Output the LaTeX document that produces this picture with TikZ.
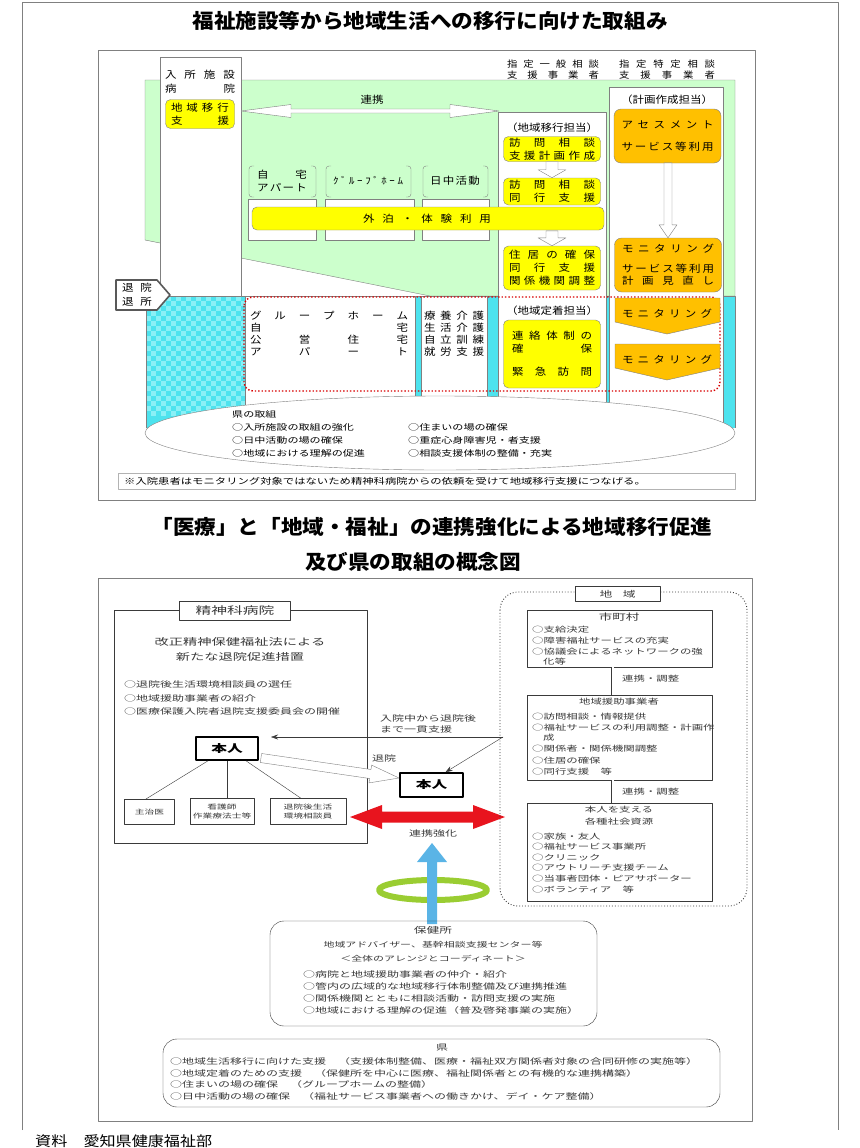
\documentclass[tikz,border=0pt]{standalone}
\usepackage{fontspec}
\setmainfont{Noto Sans CJK JP}
\newfontfamily\jp{Noto Sans CJK JP}
\newfontfamily\jpt{Noto Sans CJK JP}[FakeStretch=1.08]
\newfontfamily\jpm{Noto Sans CJK JP}[FakeStretch=1.15]
\newfontfamily\jpw{Noto Sans CJK JP}[FakeStretch=1.35]
\newfontfamily\jpx{Noto Sans CJK JP}[FakeStretch=1.5]
\usetikzlibrary{calc,arrows.meta}
\definecolor{gfill}{HTML}{CCFFCC}
\definecolor{ylw}{HTML}{FFFF00}
\definecolor{org}{HTML}{FFC000}
\definecolor{cyn}{HTML}{4DE3EE}
\definecolor{cynl}{HTML}{8AF0F6}
\definecolor{lgray}{HTML}{808080}
\definecolor{txt}{HTML}{3A3A3A}
\definecolor{redar}{HTML}{E8141E}
\definecolor{bluar}{HTML}{5AB4E6}
\definecolor{ringc}{HTML}{9ACD32}
\makeatletter
\def\jus#1#2{\hbox to #1{\jus@a#2\@nil}}
\def\jus@a#1#2\@nil{#1\if\relax\detokenize{#2}\relax\else\hfil\jus@a#2\@nil\fi}
\makeatother
\begin{document}
\begin{tikzpicture}[x=1pt,y=-1pt,line join=round,
  ttl/.style={font=\jpt\bfseries\fontsize{20}{24}\selectfont, inner sep=0},
  tf/.style={font=\jpm\fontsize{10}{12.5}\selectfont, inner sep=0, align=center},
  ef/.style={font=\jpw\fontsize{8.2}{12}\selectfont, inner sep=0, anchor=west},
  bf/.style={font=\jpx\fontsize{8}{11}\selectfont, text=txt, inner sep=0},
  bs/.style={font=\jpx\fontsize{7.6}{10.5}\selectfont, text=txt, inner sep=0},
  ybox/.style={draw=lgray, fill=ylw, rounded corners=5, inner sep=0, align=center, font=\jpm\fontsize{10}{13}\selectfont},
  obox/.style={draw=lgray, fill=org, rounded corners=7, inner sep=0, align=center, font=\jpm\fontsize{10}{12.5}\selectfont},
  wbox/.style={draw=lgray, fill=white},
  harrow/.style={draw=lgray, fill=white},
  pbox/.style={draw=black, line width=1.6, fill=white, inner sep=0, font=\jpx\bfseries\fontsize{10.5}{12}\selectfont},
  sbox/.style={draw=txt, fill=white, inner sep=0, align=center, font=\jpx\fontsize{6.5}{9}\selectfont, text=txt}
]
\useasboundingbox (0,0) rectangle (859,1148);
\fill[white] (0,0) rectangle (859,1148);
% outer frame
\draw[lgray, line width=0.8] (22,1130) -- (22,2) -- (838,2) -- (838,1130);

% ================= TOP DIAGRAM =================
\node[ttl] (t1) at (430,21) {福祉施設等から地域生活への移行に向けた取組み};
\draw[lgray, line width=0.8] (98,50) rectangle (755,500);

% green region
\filldraw[fill=gfill, draw=lgray] (145,80) -- (735,80) -- (735,296) -- (430,296) -- (241,258) -- (160,243) -- (145,240) -- cycle;
% cyan band
\fill[cyn] (146,296) rectangle (735,428);
\foreach \i in {0,...,9}{\foreach \j in {0,...,11}{
  \fill[cynl] (146+10*\i,296+10*\j) rectangle ++(5,5);
  \fill[cynl] (151+10*\i,301+10*\j) rectangle ++(5,5);}}
\draw[lgray] (146,428) -- (146,296) -- (735,296) -- (735,428);
\draw[wbox] (245,296) rectangle (415,428);
\draw[wbox] (421,296) rectangle (487,428);
% columns
\draw[wbox] (498,112) rectangle (606,440);
\draw[wbox] (609,87) rectangle (723,440);
\draw[wbox] (160,57) rectangle (241,296);

% headers
\node[tf, font=\jpm\fontsize{9}{11}\selectfont] (h1a) at (553,64) {\jus{92pt}{指定一般相談}};
\node[tf, font=\jpm\fontsize{9}{11}\selectfont] (h1b) at (553,75) {\jus{92pt}{支援事業者}};
\node[tf, font=\jpm\fontsize{9}{11}\selectfont] (h2a) at (667,64) {\jus{96pt}{指定特定相談}};
\node[tf, font=\jpm\fontsize{9}{11}\selectfont] (h2b) at (667,75) {\jus{96pt}{支援事業者}};

% left column
\node[tf] (lc1) at (200,75) {\jus{70pt}{入所施設}};
\node[tf] (lc2) at (200,89) {\jus{70pt}{病院}};
\node[ybox, minimum width=69, minimum height=29] (lc3) at (200,114) {\jus{58pt}{地域移行}\\\jus{58pt}{支援}};

% renkei double arrow
\draw[harrow] (241,111) -- (291,104.5) -- (291,109) -- (450,109) -- (450,104.5) -- (499,111) -- (450,117.5) -- (450,113) -- (291,113) -- (291,117.5) -- cycle;
\node[tf] (rk) at (372,100) {連携};

% brackets
\draw[lgray, rounded corners=3] (254,166) -- (249,166) -- (249,197) -- (254,197);
\draw[lgray, rounded corners=3] (311,166) -- (316,166) -- (316,197) -- (311,197);
\draw[lgray, rounded corners=3] (331,166) -- (326,166) -- (326,197) -- (331,197);
\draw[lgray, rounded corners=3] (406,166) -- (411,166) -- (411,197) -- (406,197);
\draw[lgray, rounded corners=3] (428,166) -- (423,166) -- (423,197) -- (428,197);
\draw[lgray, rounded corners=3] (483,166) -- (488,166) -- (488,197) -- (483,197);
\node[tf] (b1a) at (282,175) {\jus{50pt}{自宅}};
\node[tf] (b1b) at (282,188) {\jus{50pt}{アパート}};
\node[tf, font=\jpm\fontsize{9.5}{11}\selectfont] (b2) at (368,181) {\jus{70pt}{ｸﾞﾙｰﾌﾟﾎｰﾑ}};
\node[tf] (b3) at (455,181) {\jus{50pt}{日中活動}};
\draw[wbox] (248,199) rectangle (316,240);
\draw[wbox] (325,199) rectangle (414,240);
\draw[wbox] (422,199) rectangle (489,240);

% middle column
\node[tf] (ma) at (552,128) {（地域移行担当）};
\node[ybox, minimum width=97, minimum height=25] (m1) at (552,149) {\jus{86pt}{訪問相談}\\\jus{86pt}{支援計画作成}};
\node[ybox, minimum width=97, minimum height=27] (m2) at (552,191.5) {\jus{86pt}{訪問相談}\\\jus{86pt}{同行支援}};
\node[ybox, minimum width=352, minimum height=23] (gh) at (428,218.5) {\hspace*{-2pt}\jus{128pt}{外泊・体験利用}};
\node[ybox, minimum width=97, minimum height=44] (m3) at (552,268) {\jus{86pt}{住居の確保}\\\jus{86pt}{同行支援}\\\jus{86pt}{関係機関調整}};
\draw[harrow] ([xshift=-6pt]m1.south) -- ++(0,8) -- ++(-8,0) -- ++(14,8) -- ++(14,-8) -- ++(-8,0) -- ++(0,-8) -- cycle;
\draw[harrow] (m3.north) -- ++(-14,-8) -- ++(8,0) -- ++(0,-7) -- ++(12,0) -- ++(0,7) -- ++(8,0) -- cycle;

% right column
\node[tf] (ra) at (667,100) {（計画作成担当）};
\node[obox, minimum width=107, minimum height=54] (r1) at (667.5,136) {\jus{92pt}{アセスメント}\\[9pt]\jus{92pt}{サービス等利用}};
\node[obox, minimum width=107, minimum height=54] (r2) at (668,265) {\jus{92pt}{モニタリング}\\[7pt]\jus{92pt}{サービス等利用}\\\jus{92pt}{計画見直し}};
\draw[harrow] (r2.north) -- ++(-9,-13) -- ++(5,0) -- ++(0,-62) -- ++(8,0) -- ++(0,62) -- ++(5,0) -- cycle;

% taiin / taisho
\draw[draw=gray!70!black, line width=1.6, fill=white] (116,280) -- (157,280) -- (170,295) -- (157,310) -- (116,310) -- cycle;
\node[tf] (ti1) at (137,288) {\jus{30pt}{退院}};
\node[tf] (ti2) at (137,302) {\jus{30pt}{退所}};

% lower band
\draw[red!85!black, dotted, line width=1.4, rounded corners=9] (244,297) rectangle (720,391);
\node[tf] (g1) at (329,316) {\jus{158pt}{グループホーム}};
\node[tf] (g2) at (329,328) {\jus{158pt}{自宅}};
\node[tf] (g3) at (329,340) {\jus{158pt}{公営住宅}};
\node[tf] (g4) at (329,352) {\jus{158pt}{アパート}};
\node[tf] (k1) at (454,316) {\jus{60pt}{療養介護}};
\node[tf] (k2) at (454,328) {\jus{60pt}{生活介護}};
\node[tf] (k3) at (454,340) {\jus{60pt}{自立訓練}};
\node[tf] (k4) at (454,352) {\jus{60pt}{就労支援}};
\node[tf] (ta) at (552,311) {（地域定着担当）};
\node[ybox, minimum width=97, minimum height=68] (tt) at (552,354) {\jus{80pt}{連絡体制の}\\\jus{80pt}{確保}\\[10pt]\jus{80pt}{緊急訪問}};
\filldraw[fill=org, draw=lgray] (615,298) -- (720,298) -- (720,322) -- (667,334) -- (615,322) -- cycle;
\node[tf] (mo1) at (667,314) {\jus{90pt}{モニタリング}};
\filldraw[fill=org, draw=lgray] (615,344) -- (720,344) -- (720,368) -- (667,380) -- (615,368) -- cycle;
\node[tf] (mo2) at (667,360) {\jus{90pt}{モニタリング}};

% ellipse
\filldraw[fill=white, draw=lgray] (440,433) ellipse [x radius=295pt, y radius=37pt];
\node[ef] (e0) at (232,414) {県の取組};
\node[ef] (e1) at (232,427) {○入所施設の取組の強化};
\node[ef] (e2) at (232,440) {○日中活動の場の確保};
\node[ef] (e3) at (232,453) {○地域における理解の促進};
\node[ef] (e4) at (408,427) {○住まいの場の確保};
\node[ef] (e5) at (408,440) {○重症心身障害児・者支援};
\node[ef] (e6) at (408,453) {○相談支援体制の整備・充実};
\draw[lgray!60] (118,473) rectangle (735,489);
\node[ef, font=\jpw\fontsize{8.4}{10}\selectfont] (nt) at (124,481) {※入院患者はモニタリング対象ではないため精神科病院からの依頼を受けて地域移行支援につなげる。};

% ================= BOTTOM DIAGRAM =================
\node[ttl] (t2) at (432,527) {「医療」と「地域・福祉」の連携強化による地域移行促進};
\node[ttl] (t3) at (413,562) {及び県の取組の概念図};
\draw[lgray, line width=0.8] (98,578) rectangle (752,1121);

% hospital
\draw[txt] (114,610) rectangle (367,843);
\node[draw=txt, fill=white, minimum width=111, minimum height=19, inner sep=0, font=\jpx\fontsize{10.5}{12}\selectfont, text=txt] (hp) at (235,611) {精神科病院};
\node[bf, font=\jpx\fontsize{9.5}{12}\selectfont] (hx1) at (240,642) {改正精神保健福祉法による};
\node[bf, font=\jpx\fontsize{9.5}{12}\selectfont] (hx2) at (240,657) {新たな退院促進措置};
\node[bf, anchor=west] (hb1) at (124,684) {○退院後生活環境相談員の選任};
\node[bf, anchor=west] (hb2) at (124,698) {○地域援助事業者の紹介};
\node[bf, anchor=west] (hb3) at (124,711) {○医療保護入院者退院支援委員会の開催};
\node[pbox, minimum width=62, minimum height=23] (p1) at (227,748.5) {本人};
\node[sbox, minimum width=50, minimum height=25] (c1) at (149.5,812) {主治医};
\node[sbox, minimum width=64, minimum height=26] (c2) at (222,811.5) {看護師\\作業療法士等};
\node[sbox, minimum width=76, minimum height=26] (c3) at (308,811.5) {退院後生活\\環境相談員};
\draw[txt] ([xshift=-19pt]p1.south) -- ([xshift=-4pt]c1.north);
\draw[txt] (p1.south) -- (p1.south |- c2.north);
\draw[txt] ([xshift=19pt]p1.south) -- ([xshift=-7pt]c3.north);

\node[pbox, minimum width=63, minimum height=24] (p2) at (431.5,785) {本人};
\coordinate (jc) at (503,737);
\coordinate (je) at (271,737);
\draw[txt, -{Stealth[length=7pt,width=5pt]}] (jc) -- (je);
\draw[txt, -{Stealth[length=7pt,width=5pt]}] (jc) -- ([xshift=14pt]p2.north);
\node[bf, anchor=west, align=left] (jt) at (380,724) {入院中から退院後\\まで一貫支援};
\node[bf, anchor=west] (tn) at (372,758) {退院};
\draw[harrow] (261.6,753.5) -- (371,769.5) -- (371.6,765.1) -- (399,778) -- (369,782.9) -- (369.6,778.5) -- (260.3,762.5) -- cycle;

% red double arrow
\fill[redar] (350,817) -- (382,805) -- (382,811.5) -- (473,811.5) -- (473,805) -- (505,817) -- (473,829) -- (473,822.5) -- (382,822.5) -- (382,829) -- cycle;
\node[bf] (rs) at (433,833) {連携強化};

% ring and blue arrow
\draw[ringc, line width=6] (433,890) ellipse [x radius=54pt, y radius=10pt];
\fill[bluar] (427,924) -- (427,862) -- (417,862) -- (432,843) -- (447,862) -- (437,862) -- (437,924) -- cycle;

% region
\draw[txt, dotted, line width=0.9, rounded corners=18] (500,592) rectangle (747,906);
\node[draw=txt, fill=white, minimum width=85, minimum height=15, inner sep=0, bf, font=\jpx\fontsize{8.5}{11}\selectfont] (ch) at (617.5,594) {\jus{36pt}{地域}};
\node[draw=txt, fill=white, minimum width=185, minimum height=57, inner sep=0] (sm) at (619.5,638.5) {};
\node[bs, font=\jpx\fontsize{9}{11}\selectfont] (smt) at (619,617) {市町村};
\node[bs, anchor=west] (sm1) at (532,630) {○支給決定};
\node[bs, anchor=west] (sm2) at (532,641) {○障害福祉サービスの充実};
\node[bs, anchor=west] (sm3) at (532,652) {○協議会によるネットワークの強};
\node[bs, anchor=west] (sm4) at (543,662) {化等};
\node[draw=txt, fill=white, minimum width=185, minimum height=85, inner sep=0] (cs) at (619.5,737.5) {};
\node[bs] (cst) at (619,702) {地域援助事業者};
\node[bs, anchor=west] (cs1) at (532,717) {○訪問相談・情報提供};
\node[bs, anchor=west] (cs2) at (532,728) {○福祉サービスの利用調整・計画作};
\node[bs, anchor=west] (cs3) at (543,738) {成};
\node[bs, anchor=west] (cs4) at (532,749) {○関係者・関係機関調整};
\node[bs, anchor=west] (cs5) at (532,761) {○住居の確保};
\node[bs, anchor=west] (cs6) at (532,772) {○同行支援　等};
\node[draw=txt, fill=white, minimum width=185, minimum height=98, inner sep=0] (sr) at (619.5,852) {};
\node[bs] (srt1) at (619,810) {本人を支える};
\node[bs] (srt2) at (619,822) {各種社会資源};
\node[bs, anchor=west] (sr1) at (532,837) {○家族・友人};
\node[bs, anchor=west] (sr2) at (532,847) {○福祉サービス事業所};
\node[bs, anchor=west] (sr3) at (532,858) {○クリニック};
\node[bs, anchor=west] (sr4) at (532,868) {○アウトリーチ支援チーム};
\node[bs, anchor=west] (sr5) at (532,879) {○当事者団体・ピアサポーター};
\node[bs, anchor=west] (sr6) at (532,890) {○ボランティア　等};
\draw[txt, double, double distance=2pt] ([xshift=-7pt]sm.south) -- ([xshift=-7pt]cs.north);
\draw[txt, double, double distance=2pt] ([xshift=-7pt]cs.south) -- ([xshift=-7pt]sr.north);
\node[bs, anchor=west] (rc1) at (622,679) {連携・調整};
\node[bs, anchor=west] (rc2) at (622,792) {連携・調整};

% hokenjo
\draw[txt, rounded corners=14] (270,921) rectangle (597,1026);
\node[bf, font=\jpx\fontsize{8.5}{11}\selectfont] (hk0) at (433,930) {保健所};
\node[bs, font=\jpx\fontsize{7.3}{10}\selectfont] (hk1) at (433,945) {地域アドバイザー、基幹相談支援センター等};
\node[bs, font=\jpx\fontsize{7.3}{10}\selectfont] (hk2) at (433,959) {＜全体のアレンジとコーディネート＞};
\node[bf, anchor=west] (hk3) at (303,974) {○病院と地域援助事業者の仲介・紹介};
\node[bf, anchor=west] (hk4) at (303,986) {○管内の広域的な地域移行体制整備及び連携推進};
\node[bf, anchor=west] (hk5) at (303,998) {○関係機関とともに相談活動・訪問支援の実施};
\node[bf, anchor=west] (hk6) at (303,1010) {○地域における理解の促進（普及啓発事業の実施）};

% prefecture
\draw[txt, rounded corners=14] (163,1039) rectangle (720,1107);
\node[bf] (kn0) at (442,1048) {県};
\node[bf, anchor=west] (kn1) at (170,1061) {○地域生活移行に向けた支援　（支援体制整備、医療・福祉双方関係者対象の合同研修の実施等）};
\node[bf, anchor=west] (kn2) at (170,1073) {○地域定着のための支援　（保健所を中心に医療、福祉関係者との有機的な連携構築）};
\node[bf, anchor=west] (kn3) at (170,1084) {○住まいの場の確保　（グループホームの整備）};
\node[bf, anchor=west] (kn4) at (170,1096) {○日中活動の場の確保　（福祉サービス事業者への働きかけ、デイ・ケア整備）};

\node[anchor=west, inner sep=0, font=\jpm\fontsize{14}{16}\selectfont] (src) at (35,1141) {資料　愛知県健康福祉部};
\end{tikzpicture}
\end{document}
